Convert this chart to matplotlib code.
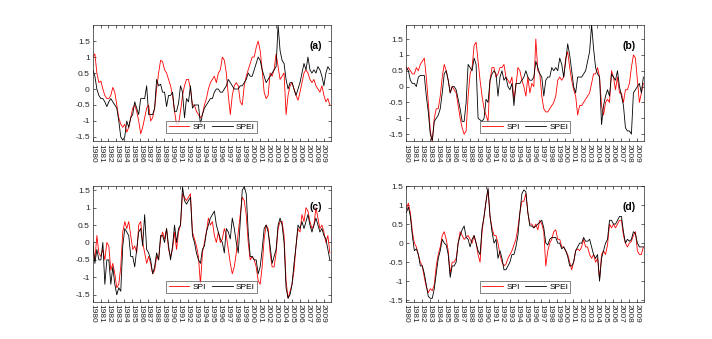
import numpy as np
import matplotlib
matplotlib.use("Agg")
import matplotlib.pyplot as plt

plt.rcParams['font.family'] = ['Liberation Sans', 'DejaVu Sans']

# quarterly values 1980-2009
spi_a = [1.0, 1.1, 0.5, 0.2, 0.25, 0.0, -0.2, -0.3, -0.3, -0.2, 0.05, -0.1,
         -0.5, -0.9, -1.1, -1.2, -1.1, -1.35, -1.2, -0.9, -0.6, -0.5, -0.7, -1.0,
         -1.4, -1.2, -0.9, -0.6, -0.5, -1.0, -0.9, -0.6, 0.0, 0.5, 0.9, 0.85,
         0.6, 0.5, 0.3, 0.1, -0.2, -0.7, -1.1, -1.1, -0.7, -0.2, 0.1, 0.3,
         0.3, 0.0, -0.5, -0.5, -0.7, -0.8, -0.9, -0.8, -0.5, -0.3, 0.0, 0.2,
         0.3, 0.4, 0.2, 0.5, 0.6, 1.0, 0.9, 0.5, -0.2, -0.8, -0.2, 0.1,
         0.2, 0.1, -0.4, -0.5, 0.1, 0.4, 0.6, 0.8, 1.0, 1.0, 1.3, 1.5,
         1.2, 0.6, -0.1, -0.3, -0.2, 0.5, 0.4, 0.6, 1.1, 0.7, 0.3, 0.4,
         0.5, -0.8, -0.2, 0.1, 0.2, 0.0, -0.2, -0.35, -0.1, 0.2, 0.5, 0.6,
         0.5, 0.3, 0.2, 0.3, 0.1, 0.0, -0.1, 0.1, -0.2, -0.4, -0.3, -0.5]
spei_a = [0.6, 0.4, 0.0, -0.2, -0.3, -0.3, -0.4, -0.55, -0.4, -0.3, -0.4, -0.5,
          -0.6, -1.0, -1.5, -1.6, -1.5, -1.0, -1.2, -0.9, -0.8, -0.4, -0.6, -0.8,
          -0.3, -0.3, -0.3, 0.1, -0.8, -0.8, -0.8, -0.6, 0.3, 0.1, 0.15, -0.1,
          -0.1, -0.55, -0.2, -0.2, -0.1, -0.7, -0.7, -0.45, 0.1, -0.1, -0.9, -0.3,
          -0.4, 0.1, -0.6, -0.5, -0.5, -0.5, -1.1, -0.8, -0.6, -0.5, -0.4, -0.3,
          -0.3, -0.1, 0.0, 0.0, -0.1, -0.1, 0.0, 0.1, 0.3, 0.2, 0.1, 0.0,
          0.0, 0.0, 0.1, 0.1, 0.2, 0.3, 0.5, 0.4, 0.4, 0.6, 0.8, 1.0,
          0.9, 0.6, 0.4, 0.2, 0.3, 0.4, 0.5, 0.6, 0.7, 2.0, 1.2, 0.9,
          0.8, 0.3, 0.0, 0.2, 0.2, 0.0, -0.2, 0.0, 0.2, 0.5, 0.8, 0.6,
          1.0, 0.6, 0.5, 0.6, 0.5, 0.7, 0.6, 0.4, 0.1, 0.5, 0.7, 0.6]
spi_b = [0.5, 0.6, 0.5, 0.4, 0.4, 0.6, 0.5, 0.7, 0.8, 0.9, 0.3, -0.5,
         -1.4, -1.75, -1.0, -0.7, -0.7, -0.3, 0.3, 0.7, 0.5, 0.2, -0.2, 0.0,
         -0.1, -0.2, -0.6, -1.0, -1.3, -1.5, -1.4, -0.3, 0.4, 0.6, 1.3, 1.4,
         0.8, 0.2, -0.3, -0.7, -0.9, -1.1, 0.2, 0.6, 0.6, 0.3, 0.4, 0.6,
         0.6, 0.7, 0.3, 0.2, 0.1, 0.3, -0.4, 0.0, 0.6, 0.5, 0.2, 0.0,
         -0.3, 0.3, -0.2, 0.1, 0.0, 1.5, 0.5, 0.4, -0.3, -0.7, -0.8, -0.8,
         -0.7, -0.6, -0.5, -0.3, 0.2, 0.3, 0.2, 0.3, 0.9, 1.1, 0.6, 0.2,
         -0.1, -0.3, -0.9, -0.6, -0.6, -0.5, -0.4, -0.3, -0.2, 0.1, 0.4, 0.4,
         0.6, 0.3, -0.6, -0.9, -0.5, -0.4, -0.5, 0.5, 0.3, -0.1, 0.3, -0.2,
         -0.2, -0.5, -0.1, -0.1, 0.1, 0.6, 1.0, 0.9, 0.2, -0.5, -0.2, 0.1]
spei_b = [0.6, 0.5, 0.2, 0.1, 0.1, 0.0, 0.3, 0.35, 0.35, 0.35, -0.3, -0.8,
          -1.5, -1.7, -1.1, -1.0, -0.9, -0.7, -0.2, 0.4, 0.5, 0.2, -0.2, 0.0,
          0.0, -0.1, -0.4, -0.7, -1.1, -1.1, -0.5, 0.7, 0.6, 0.5, 0.9, 0.7,
          -1.0, -1.05, -1.1, -1.0, -0.4, -0.5, 0.2, 0.4, 0.5, 0.4, -0.3, 0.3,
          0.5, 0.2, 0.3, 0.0, -0.1, 0.1, -0.6, 0.1, 0.1, 0.1, 0.2, 0.3,
          0.5, 0.3, 0.2, 0.2, 0.3, 0.8, 0.6, 0.4, 0.3, -0.3, 0.2, 0.3,
          0.3, 0.6, 0.5, 0.6, 0.5, 0.9, 0.7, 0.3, 0.8, 1.35, 1.0, 0.5,
          0.0, -0.2, 0.3, 0.3, 0.3, 0.4, 0.5, 0.8, 1.1, 1.95, 1.2, 0.6,
          0.4, 0.3, -1.2, -0.6, -0.3, -0.1, -0.3, 0.4, 0.3, 0.2, 0.5, 0.0,
          -0.3, -0.6, -1.3, -1.4, -1.4, -1.5, -0.2, -0.1, 0.0, 0.1, -0.2, 0.3]
spi_c = [-0.2, -0.5, 0.2, -0.3, -0.4, -0.2, -0.5, 0.0, -0.1, -0.8, -0.6, -0.9,
         -1.3, -1.2, -0.7, 0.3, 0.6, 0.4, 0.6, 0.2, -0.2, -0.1, -0.3, 0.5,
         0.6, 0.0, -0.3, -0.6, -0.4, -0.6, -0.9, -0.8, -0.4, -0.5, 0.1, 0.3,
         0.1, 0.4, -0.2, -0.4, -0.2, 0.3, -0.2, 0.3, 0.5, 1.4, 1.3, 1.2,
         1.3, 1.4, 0.3, 0.1, -0.1, -0.4, -1.2, -0.3, 0.0, 0.3, 0.7, 0.5,
         0.6, 0.2, 0.0, 0.3, 0.0, 0.1, 0.4, 0.2, -0.2, -0.6, -0.9, -0.7,
         -0.3, 0.3, 0.8, 1.3, 1.2, 0.8, 0.0, -0.5, -0.4, -0.5, -0.7, -1.1,
         -1.2, -0.7, 0.1, 0.5, 0.4, -0.3, -0.7, -0.7, -0.3, 0.4, 0.6, 0.6,
         0.2, -1.1, -1.6, -1.4, -1.2, -0.8, -0.1, 0.4, 0.3, 0.8, 0.6, 1.0,
         0.9, 0.6, 0.4, 0.5, 1.0, 0.7, 0.4, 0.5, 0.3, 0.0, 0.2, -0.3]
spei_c = [0.0, -0.6, -0.2, -0.5, -0.5, 0.0, -1.2, -0.5, -0.5, -1.2, -0.7, -1.2,
          -1.5, -1.3, -1.4, -0.1, 0.4, 0.3, 0.2, -0.4, -0.4, -0.7, -0.2, 0.3,
          0.4, -0.1, 0.8, -0.2, -0.3, -0.5, -0.9, -0.7, -0.3, -0.5, 0.2, 0.2,
          0.0, 0.4, -0.1, -0.5, -0.1, 0.5, 0.0, 0.4, 0.5, 1.6, 1.2, 1.1,
          1.2, 1.3, 0.2, 0.0, -0.3, -0.5, -0.6, -0.2, -0.1, 0.3, 0.5, 0.7,
          0.8, 0.9, 0.5, 0.3, 0.1, 0.0, -0.3, 0.4, 0.3, 0.1, 0.7, 0.4,
          0.0, -0.3, 0.6, 1.5, 1.6, 1.4, 0.3, -0.4, -0.4, -0.5, -0.5, -0.9,
          -0.7, -0.2, 0.4, 0.5, 0.3, -0.1, -0.6, -0.4, -0.2, 0.5, 0.7, 0.5,
          0.0, -1.3, -1.6, -1.5, -1.2, -0.6, -0.1, 0.5, 0.4, 0.6, 0.4, 0.6,
          0.8, 0.5, 0.3, 0.5, 0.7, 0.5, 0.3, 0.4, 0.2, 0.1, -0.2, -0.5]
spi_d = [0.9, 1.05, 0.8, 0.3, 0.0, -0.1, -0.3, -0.5, -0.6, -0.9, -1.15, -1.3,
         -1.2, -1.25, -1.1, -0.6, -0.3, -0.1, 0.2, 0.3, 0.1, -0.2, -0.8, -0.5,
         -0.5, -0.4, 0.0, 0.3, 0.2, 0.1, 0.15, 0.2, 0.1, 0.0, 0.2, 0.0,
         -0.3, -0.5, 0.3, 0.7, 1.1, 1.4, 0.7, 0.4, 0.2, 0.2, 0.0, -0.3,
         -0.5, -0.6, -0.55, -0.4, -0.3, -0.2, -0.05, 0.1, 0.4, 0.8, 1.1, 1.1,
         1.3, 0.8, 0.5, 0.5, 0.4, 0.5, 0.35, 0.6, 0.5, 0.3, -0.6, -0.2,
         0.0, 0.1, 0.3, 0.35, 0.1, 0.1, -0.1, -0.1, -0.2, -0.3, -0.5, -0.7,
         -0.5, -0.2, -0.15, -0.2, -0.1, 0.1, -0.1, -0.1, -0.3, -0.4, -0.3, -0.5,
         -0.4, -0.95, -0.3, -0.2, -0.3, -0.05, 0.5, 0.4, 0.5, 0.4, 0.5, 0.6,
         0.6, 0.2, 0.0, -0.1, 0.0, 0.05, 0.2, 0.3, -0.2, -0.3, -0.3, -0.1]
spei_d = [0.8, 0.95, 0.7, 0.2, -0.2, -0.15, -0.3, -0.6, -0.6, -0.8, -1.1, -1.4,
          -1.45, -1.45, -1.2, -0.8, -0.4, -0.2, 0.1, 0.0, -0.05, -0.3, -0.9, -0.6,
          -0.6, -0.5, 0.0, 0.2, 0.35, 0.45, 0.15, 0.1, -0.1, 0.1, 0.2, 0.0,
          -0.2, -0.3, 0.4, 0.7, 1.1, 1.45, 0.7, 0.3, 0.0, 0.1, -0.4, -0.2,
          -0.4, -0.7, -0.7, -0.6, -0.5, -0.3, -0.3, -0.1, 0.2, 0.8, 1.3, 1.4,
          1.35, 0.8, 0.45, 0.45, 0.4, 0.45, 0.5, 0.55, 0.6, 0.4, 0.0, -0.05,
          0.1, 0.15, 0.15, 0.15, 0.0, 0.0, -0.15, -0.1, -0.2, -0.35, -0.6, -0.6,
          -0.5, -0.2, -0.1, 0.0, 0.0, 0.15, 0.05, 0.05, 0.1, -0.1, -0.3, -0.4,
          -0.3, -1.0, -0.4, -0.2, 0.0, 0.1, 0.6, 0.6, 0.5, 0.5, 0.6, 0.7,
          0.7, 0.3, 0.0, 0.1, 0.05, 0.1, 0.3, 0.25, 0.0, -0.1, -0.1, -0.1]

years = list(range(1980, 2010))
ytick_vals = [-1.5, -1, -0.5, 0, 0.5, 1, 1.5]
ytick_labels = ['-1.5', '-1', '-0.5', '0', '0.5', '1', '1.5']
panels = ['(a)', '(b)', '(c)', '(d)']
ylims = [(-1.63, 1.99), (-1.72, 1.93), (-1.70, 1.62), (-1.54, 1.43)]

series = [(spi_a, spei_a), (spi_b, spei_b), (spi_c, spei_c), (spi_d, spei_d)]
positions = [[0.13, 0.5838, 0.3347, 0.3412], [0.5703, 0.5838, 0.3347, 0.3412],
             [0.13, 0.11, 0.3347, 0.3412], [0.5703, 0.11, 0.3347, 0.3412]]

t = 1980 + np.arange(120) / 4.0 + 1.0 / 24

fig = plt.figure(figsize=(7.12, 3.39), dpi=100)
axcol = '#262626'
for i, (spi, spei) in enumerate(series):
    ax = fig.add_axes(positions[i])
    ax.plot(t, spi, color='red', lw=0.6, label='SPI')
    ax.plot(t, spei, color='black', lw=0.6, label='SPEI')
    ax.set_xlim(1980, 1980 + 359 / 12)
    ax.set_ylim(*ylims[i])
    ax.set_xticks(years)
    ax.set_xticklabels([str(y) for y in years], rotation=-90, fontsize=6, color=axcol)
    ax.set_yticks(ytick_vals)
    ax.set_yticklabels(ytick_labels, fontsize=6, color=axcol)
    ax.tick_params(direction='in', length=2, width=0.5, colors=axcol, pad=2,
                   top=True, right=True)
    for s in ax.spines.values():
        s.set_linewidth(0.5)
        s.set_color(axcol)
    leg = ax.legend(loc='lower center', ncol=2, fontsize=6, frameon=True,
                    fancybox=False, edgecolor=axcol, handlelength=2.5,
                    columnspacing=0.7, handletextpad=0.4, borderpad=0.25,
                    borderaxespad=0.3, bbox_to_anchor=(0.5, 0.05))
    leg.get_frame().set_linewidth(0.5)
    ax.text(0.935, 0.82, panels[i], transform=ax.transAxes, fontsize=7.5,
            fontweight='bold', ha='center', va='center')

fig.savefig('out.png', dpi=100)
